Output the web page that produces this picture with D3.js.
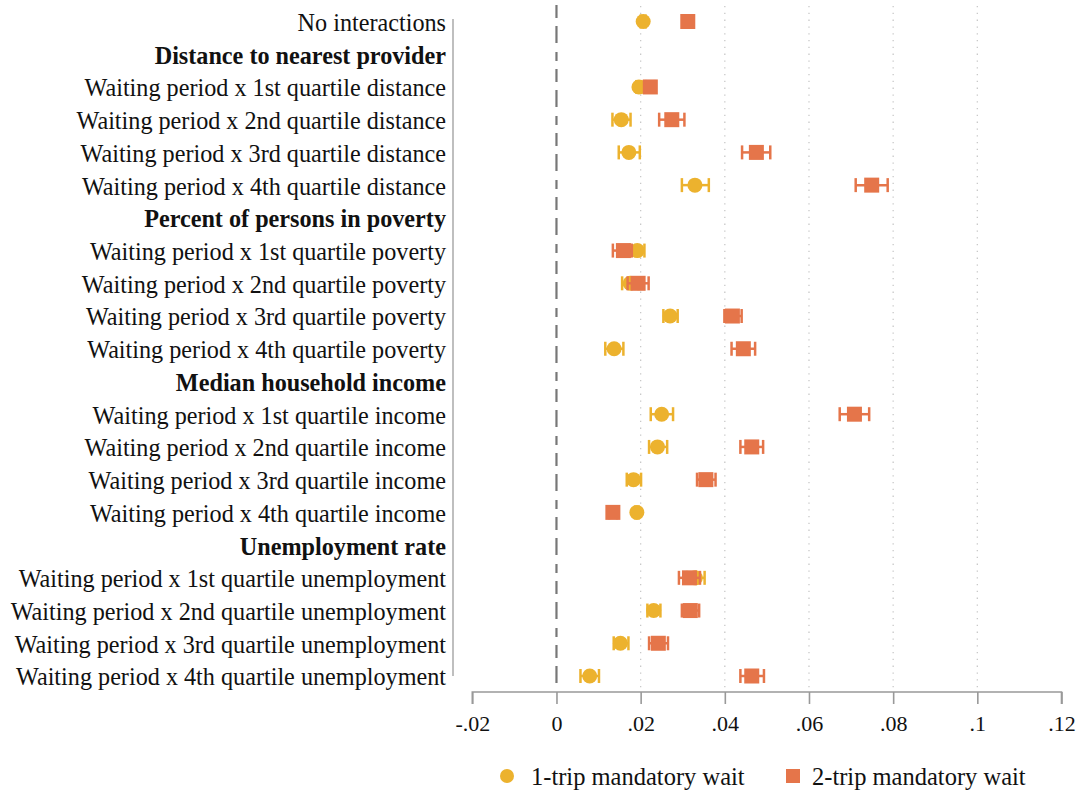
<!DOCTYPE html>
<html><head><meta charset="utf-8">
<script src="https://cdn.jsdelivr.net/npm/d3@7"></script>
<style>body{margin:0;background:#fff}svg{display:block}</style>
</head><body>
<script>
const labels = [
 "No interactions",
 "Distance to nearest provider",
 "Waiting period x 1st quartile distance",
 "Waiting period x 2nd quartile distance",
 "Waiting period x 3rd quartile distance",
 "Waiting period x 4th quartile distance",
 "Percent of persons in poverty",
 "Waiting period x 1st quartile poverty",
 "Waiting period x 2nd quartile poverty",
 "Waiting period x 3rd quartile poverty",
 "Waiting period x 4th quartile poverty",
 "Median household income",
 "Waiting period x 1st quartile income",
 "Waiting period x 2nd quartile income",
 "Waiting period x 3rd quartile income",
 "Waiting period x 4th quartile income",
 "Unemployment rate",
 "Waiting period x 1st quartile unemployment",
 "Waiting period x 2nd quartile unemployment",
 "Waiting period x 3rd quartile unemployment",
 "Waiting period x 4th quartile unemployment"
];
const isHeader = [false,true,false,false,false,false,true,false,false,false,false,true,false,false,false,false,true,false,false,false,false];
// 1-trip mandatory wait
const est1 = [0.0206,null,0.0196,0.0154,0.0172,0.0329,null,0.0192,0.0175,0.0270,0.0137,null,0.0250,0.0240,0.0183,0.0191,null,0.0330,0.0231,0.0152,0.0079];
const lo1  = [0.0200,null,0.0190,0.0133,0.0148,0.0298,null,0.0175,0.0156,0.0254,0.0116,null,0.0224,0.0220,0.0167,0.0187,null,0.0310,0.0216,0.0136,0.0057];
const hi1  = [0.0212,null,0.0202,0.0176,0.0198,0.0362,null,0.0209,0.0195,0.0288,0.0159,null,0.0277,0.0263,0.0201,0.0195,null,0.0352,0.0247,0.0171,0.0101];
// 2-trip mandatory wait
const est2 = [0.0312,null,0.0223,0.0274,0.0475,0.0749,null,0.0159,0.0194,0.0418,0.0444,null,0.0708,0.0464,0.0355,0.0134,null,0.0316,0.0318,0.0242,0.0464];
const lo2  = [0.0306,null,0.0213,0.0244,0.0441,0.0711,null,0.0134,0.0169,0.0399,0.0416,null,0.0673,0.0437,0.0334,0.0125,null,0.0291,0.0298,0.0220,0.0437];
const hi2  = [0.0318,null,0.0233,0.0304,0.0508,0.0787,null,0.0179,0.0219,0.0440,0.0472,null,0.0743,0.0491,0.0378,0.0144,null,0.0341,0.0339,0.0265,0.0493];
const xTicks = [-0.02,0,0.02,0.04,0.06,0.08,0.1,0.12];
const xTickLabels = ["-.02","0",".02",".04",".06",".08",".1",".12"];
const gridVals = [0.02,0.04,0.06,0.08,0.1];
const seriesNames = ["1-trip mandatory wait","2-trip mandatory wait"];
const colors = ["#ECB22E","#E5754A"];

const W=1079,H=792;
const svg=d3.select("body").append("svg").attr("width",W).attr("height",H);
const x=d3.scaleLinear().domain([-0.02,0.12]).range([472.3,1061.5]);
const y=d3.scaleLinear().domain([0,20]).range([21.5,676]);
const font="'Liberation Serif','Times New Roman',serif";
const axisY=692;

// grid
svg.append("g").selectAll("line").data(gridVals).join("line")
 .attr("x1",d=>x(d)).attr("x2",d=>x(d)).attr("y1",6).attr("y2",axisY)
 .attr("stroke","#c8c8c8").attr("stroke-width",1.3).attr("stroke-dasharray","1.3,5.5");
// zero line
svg.append("line").attr("x1",x(0)).attr("x2",x(0)).attr("y1",5).attr("y2",axisY)
 .attr("stroke","#777").attr("stroke-width",2.2).attr("stroke-dasharray","13,8,17,9,9,8");

// left axis line
svg.append("line").attr("x1",453).attr("x2",453).attr("y1",19).attr("y2",676)
 .attr("stroke","#aaa").attr("stroke-width",1.5);

// labels
svg.append("g").selectAll("text").data(labels).join("text")
 .attr("x",446).attr("y",(d,i)=>y(i)).attr("dy","0.39em")
 .attr("text-anchor","end").attr("font-family",font).attr("font-size",24.2)
 .attr("font-weight",(d,i)=>isHeader[i]?"bold":"normal").attr("fill","#111").text(d=>d);

// bottom axis
const xAxis=d3.axisBottom(x).tickValues(xTicks).tickSize(12).tickPadding(11)
 .tickFormat((d,i)=>xTickLabels[i]);
const ga=svg.append("g").attr("transform",`translate(0,${axisY})`).call(xAxis);
ga.select(".domain").attr("stroke","#999").attr("stroke-width",1.6).attr("d",`M${x(-0.02)},12V0H${x(0.12)}V12`);
ga.selectAll(".tick line").attr("stroke","#999").attr("stroke-width",1.6);
ga.selectAll(".tick text").attr("font-family",font).attr("font-size",22).attr("fill","#111");

// series
const series=[{est:est1,lo:lo1,hi:hi1,shape:"circle"},{est:est2,lo:lo2,hi:hi2,shape:"square"}];
series.forEach((s,k)=>{
  const rows=d3.range(labels.length).filter(i=>s.est[i]!==null);
  const g=svg.append("g").attr("fill",colors[k]).attr("stroke",colors[k]);
  g.selectAll("line.ci").data(rows).join("line").attr("class","ci")
   .attr("x1",i=>x(s.lo[i])).attr("x2",i=>x(s.hi[i])).attr("y1",i=>y(i)).attr("y2",i=>y(i)).attr("stroke-width",2.5);
  g.selectAll("line.capl").data(rows).join("line").attr("class","capl")
   .attr("x1",i=>x(s.lo[i])).attr("x2",i=>x(s.lo[i])).attr("y1",i=>y(i)-7).attr("y2",i=>y(i)+7).attr("stroke-width",2.5);
  g.selectAll("line.capr").data(rows).join("line").attr("class","capr")
   .attr("x1",i=>x(s.hi[i])).attr("x2",i=>x(s.hi[i])).attr("y1",i=>y(i)-7).attr("y2",i=>y(i)+7).attr("stroke-width",2.5);
  if(s.shape==="circle"){
    g.selectAll("circle").data(rows).join("circle").attr("cx",i=>x(s.est[i])).attr("cy",i=>y(i)).attr("r",7.5).attr("stroke","none");
  } else {
    g.selectAll("rect").data(rows).join("rect").attr("x",i=>x(s.est[i])-7.5).attr("y",i=>y(i)-7.5).attr("width",15).attr("height",15).attr("stroke","none");
  }
});

// legend
const leg=svg.append("g");
leg.append("circle").attr("cx",507).attr("cy",776).attr("r",7).attr("fill",colors[0]);
leg.append("text").attr("x",531).attr("y",776).attr("dy","0.36em").attr("font-family",font).attr("font-size",24.5).attr("fill","#111").text(seriesNames[0]);
leg.append("rect").attr("x",786).attr("y",769).attr("width",14).attr("height",14).attr("fill",colors[1]);
leg.append("text").attr("x",812).attr("y",776).attr("dy","0.36em").attr("font-family",font).attr("font-size",24.5).attr("fill","#111").text(seriesNames[1]);
</script>
</body></html>
